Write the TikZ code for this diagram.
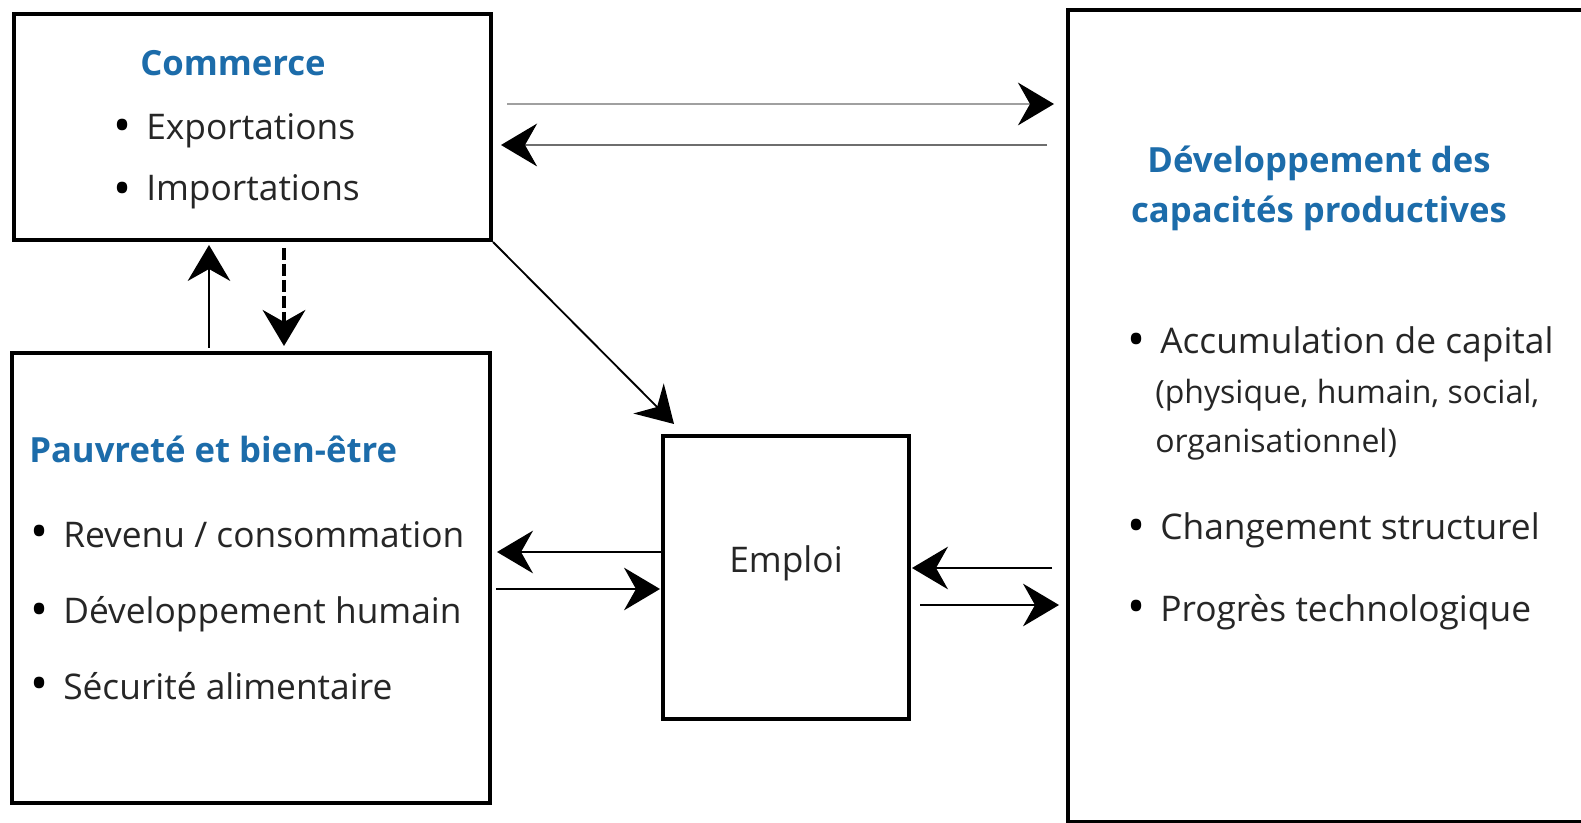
\documentclass[tikz,border=0pt]{standalone}
\usepackage{fontspec}
\setmainfont{Open Sans}
\usetikzlibrary{arrows.meta}
\definecolor{titleblue}{RGB}{28,108,170}
\definecolor{lightgray}{RGB}{160,160,160}
\definecolor{midgray}{RGB}{110,110,110}
\tikzset{
  box/.style={draw=black, line width=3pt, inner sep=0pt},
  title/.style={text=titleblue, font=\fontsize{26}{30}\selectfont\bfseries, inner sep=0pt, anchor=west},
  item/.style={text=black!85, font=\fontsize{26.5}{30}\selectfont, inner sep=0pt, anchor=west},
  smallitem/.style={text=black!85, font=\fontsize{24}{28}\selectfont, inner sep=0pt, anchor=west},
  bul/.style={text=black, font=\fontsize{36}{36}\selectfont, inner sep=0pt},
  conn/.style={line width=1.4pt, -{Stealth[length=27pt,width=32pt,inset=9pt]}},
  grayconn/.style={-{Stealth[length=27pt,width=32pt,inset=9pt,color=black]}},
}
\begin{document}
\begin{tikzpicture}[x=0.75pt,y=-0.75pt]
\useasboundingbox (0,0) rectangle (1581,823);
\clip (0,0) rectangle (1581,823);
\fill[white] (0,0) rectangle (1581,823);
% boxes
\node[box, minimum width=357.75pt, minimum height=169.5pt] (com) at (252.5,127) {};
\node[box, minimum width=358.5pt, minimum height=337.5pt] (pau) at (251,578) {};
\node[box, minimum width=184.5pt, minimum height=212.25pt] (emp) at (786,577.5) {};
\node[box, minimum width=474pt, minimum height=609pt] (dev) at (1384,416) {};
% Commerce texts
\node[title, anchor=center] (comT) at (233,63) {Commerce};
\node[bul] (b1) at (123,131) {•};
\node[item] (comA) at (146,131) {Exportations};
\node[bul] (b2) at (123,194) {•};
\node[item] (comB) at (146,192) {Importations};
% Pauvrete texts
\node[title] (pauT) at (29,449) {Pauvreté et bien-être};
\node[bul] (b3) at (40,537) {•};
\node[item] (pauA) at (63,535) {Revenu / consommation};
\node[bul] (b4) at (40,615) {•};
\node[item] (pauB) at (63,614) {Développement humain};
\node[bul] (b5) at (40,689) {•};
\node[item] (pauC) at (63,686) {Sécurité alimentaire};
% Emploi
\node[item, anchor=center] (empT) at (786,563) {Emploi};
% Developpement texts
\node[title, anchor=center] (devT1) at (1319,163) {Développement des};
\node[title, anchor=center] (devT2) at (1319,213) {capacités productives};
\node[bul] (b6) at (1137,345) {•};
\node[item] (devA) at (1160,344) {Accumulation de capital};
\node[smallitem] (devA2) at (1155,395) {(physique, humain, social,};
\node[smallitem] (devA3) at (1155,444) {organisationnel)};
\node[bul] (b7) at (1137,531) {•};
\node[item] (devB) at (1160,530) {Changement structurel};
\node[bul] (b8) at (1137,612) {•};
\node[item] (devC) at (1160,612) {Progrès technologique};
% connector end points
\coordinate (p1s) at (507,104);  \coordinate (p1e) at (1054,104);
\coordinate (p2s) at (1047,145); \coordinate (p2e) at (501,145);
\coordinate (p3s) at (209,348);  \coordinate (p3e) at (209,245);
\coordinate (p4s) at (284,248);  \coordinate (p4e) at (284,346);
\coordinate (p5e) at (674,424);
\coordinate (p6s) at (661,552);  \coordinate (p6e) at (497,552);
\coordinate (p7s) at (496,589);  \coordinate (p7e) at (660,589);
\coordinate (p8s) at (1052,568); \coordinate (p8e) at (912,568);
\coordinate (p9s) at (920,605);  \coordinate (p9e) at (1059,605);
% connectors
\draw[draw=lightgray, line width=2pt, grayconn] (p1s) -- (p1e);
\draw[draw=midgray, line width=2.2pt, grayconn] (p2s) -- (p2e);
\draw[conn] (p3s) -- (p3e);
\draw[conn, line width=3pt, dash pattern=on 9pt off 3pt] (p4s) -- (p4e);
\draw[conn] (com.south east) -- (p5e);
\draw[conn] (p6s) -- (p6e);
\draw[conn] (p7s) -- (p7e);
\draw[conn] (p8s) -- (p8e);
\draw[conn] (p9s) -- (p9e);
\end{tikzpicture}
\end{document}
